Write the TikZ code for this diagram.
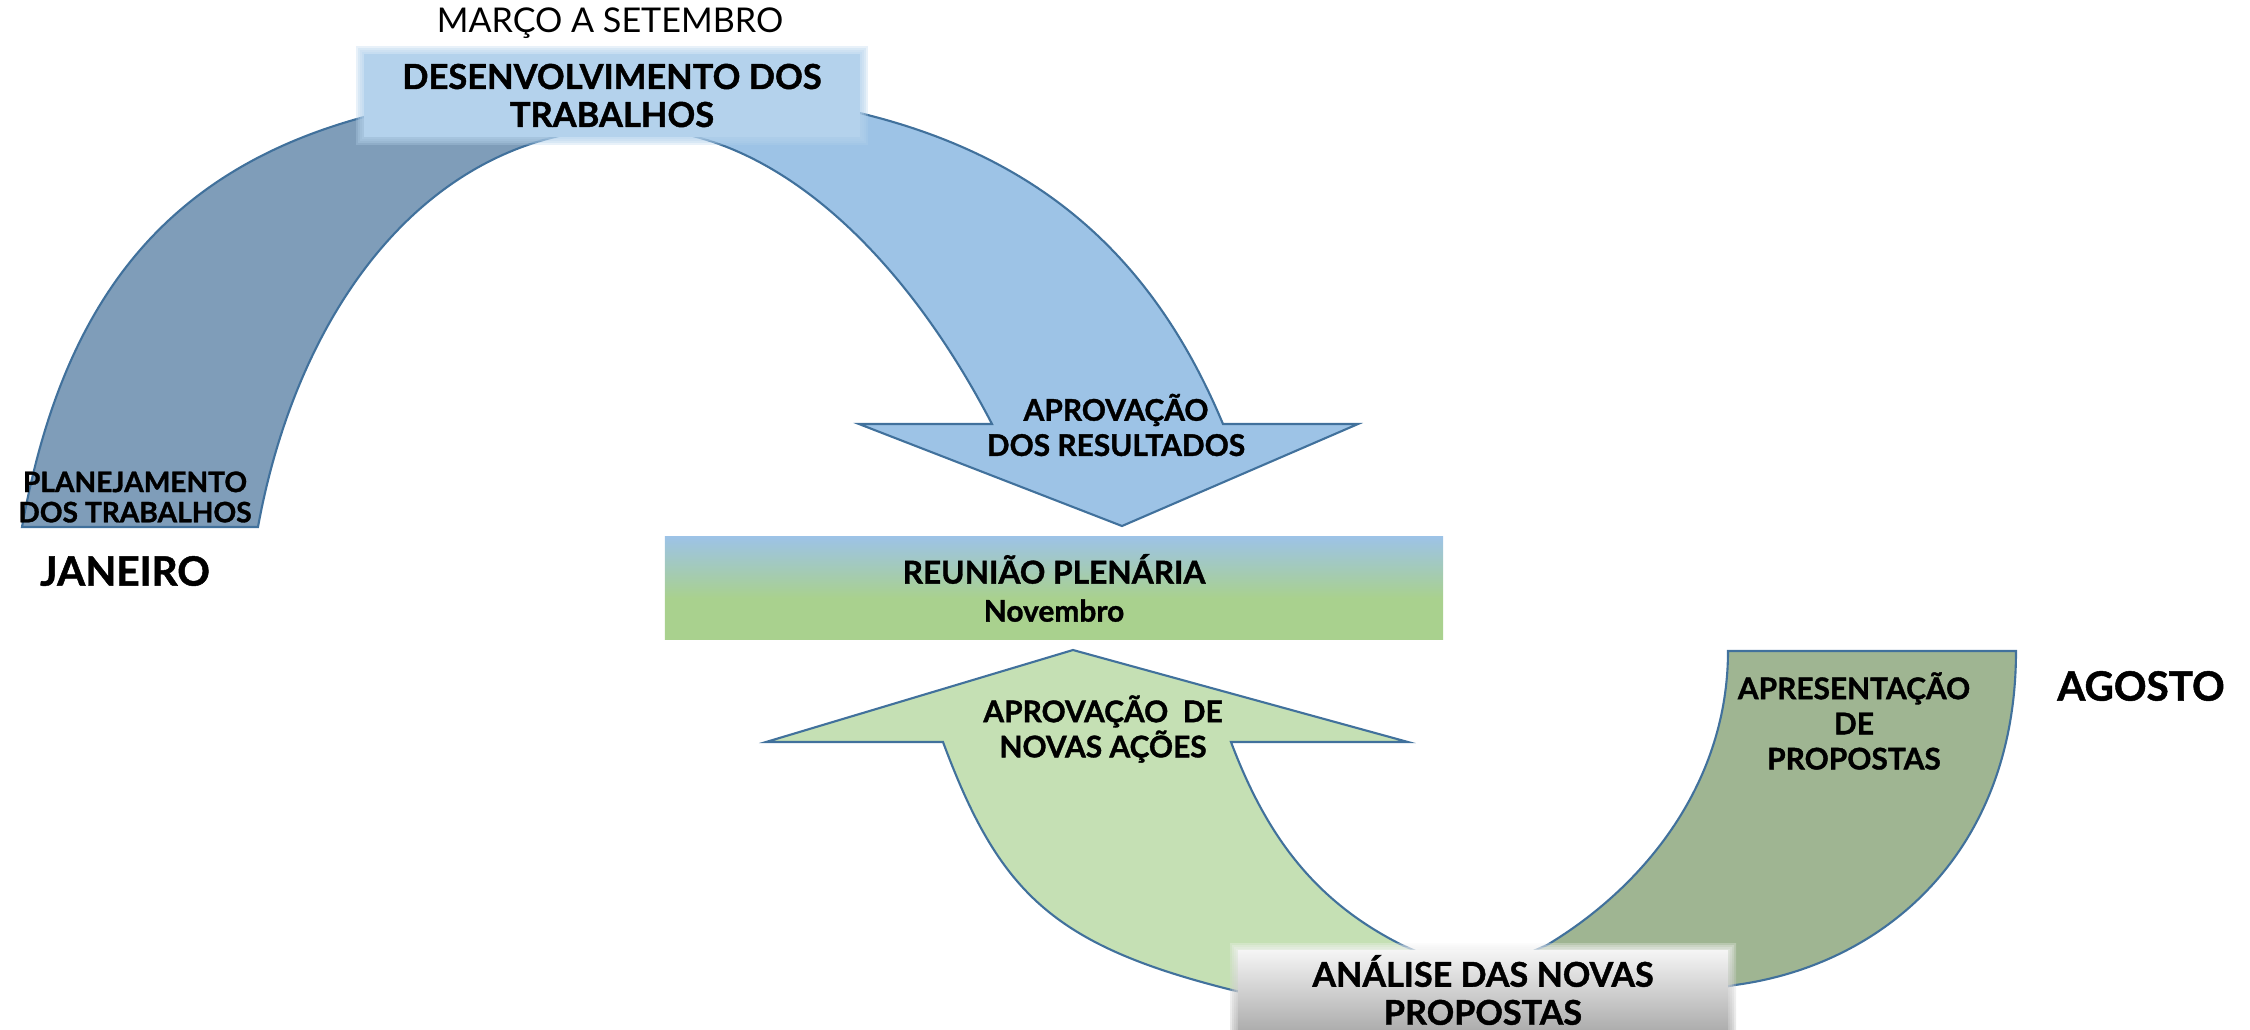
\documentclass[tikz,border=0pt]{standalone}
\usepackage{fontspec}
\setmainfont{Lato}[BoldFeatures={FakeBold=1.2}]
\usepackage{tikz}
\usetikzlibrary{positioning}

\definecolor{linha}{HTML}{41719C}
\definecolor{azulescuro}{HTML}{7F9DB9}
\definecolor{azulclaro}{HTML}{9DC3E6}
\definecolor{caixatopo}{HTML}{B4D2EC}
\definecolor{verdeclaro}{HTML}{C5E0B4}
\definecolor{verdeescuro}{HTML}{9FB592}
\definecolor{azulR}{HTML}{9DC3E6}
\definecolor{verdeR}{HTML}{A9D18E}
\definecolor{cinzaclaro}{HTML}{F4F4F4}
\definecolor{cinzaescuro}{HTML}{AEAEAE}
\pgfdeclareverticalshading{plenaria}{100bp}{color(0bp)=(verdeR); color(45bp)=(verdeR); color(75bp)=(azulR); color(100bp)=(azulR)}

\begin{document}
\begin{tikzpicture}[
        x=0.01cm, y=-0.01cm,
        contorno/.style={draw=linha, line width=0.6pt, line join=miter},
        caixa/.style={rectangle, inner sep=0pt, align=center},
        rotulo/.style={inner sep=0pt, align=center, font=\bfseries\fontsize{8.5}{10}\selectfont},
        mes/.style={inner sep=0pt, font=\bfseries\fontsize{11.5}{13}\selectfont}
    ]
        \useasboundingbox (0,0) rectangle (2250,1029);

        % 上方弧形箭头
        \draw[contorno, fill=azulclaro]
            (620,88) .. controls (960,88) and (1131,204) .. (1223,424)
            -- (1358,424) -- (1122,526) -- (859,424) -- (992,424)
            .. controls (909,264) and (780,128) .. (630,128)
            -- cycle;
        \draw[contorno, fill=azulescuro]
            (22,527) .. controls (76,227) and (240,88) .. (620,88)
            -- (630,128)
            .. controls (430,128) and (298,307) .. (258,527)
            -- cycle;

        % 下方弧形箭头
        \draw[contorno, fill=verdeclaro]
            (943,742) -- (766,742) -- (1073,650) -- (1408,742) -- (1231,742)
            .. controls (1265,832) and (1312,900) .. (1402,945)
            -- (1470,975) -- (1300,1005) -- (1232,990)
            .. controls (1052,945) and (999,892) .. (943,742)
            -- cycle;
        \draw[contorno, fill=verdeescuro]
            (1728,651) -- (2016,651)
            .. controls (2016,851) and (1885,965) .. (1735,985)
            -- (1680,995) -- (1490,970) -- (1547,945)
            .. controls (1647,885) and (1728,781) .. (1728,651)
            -- cycle;

        % 方框 (边缘柔化)
        \foreach \d in {0,2,4,6} {
            \fill[caixatopo, opacity=.3] (356+\d,46+\d) rectangle (868-\d,145-\d);
            \shade[top color=cinzaclaro, bottom color=cinzaescuro, opacity=.3] (1230+\d,943+\d) rectangle (1736-\d,1029);
        }
        \node (desenv) [caixa, fill=caixatopo, minimum width=4.96cm, minimum height=0.83cm,
            font=\bfseries\fontsize{9.8}{10.8}\selectfont] at (612,95.5) {DESENVOLVIMENTO DOS\\TRABALHOS};
        \node (plenaria) [caixa, shading=plenaria, minimum width=7.78cm, minimum height=1.02cm,
            font=\bfseries\fontsize{9}{10.8}\selectfont] at (1054,588)
            {REUNIÃO PLENÁRIA\\{\fontsize{8.5}{10}\selectfont Novembro}};
        \node (analise) [caixa, top color=cinzaclaro, bottom color=cinzaescuro, minimum width=4.9cm, minimum height=0.78cm,
            font=\bfseries\fontsize{9.7}{10.8}\selectfont] at (1483,990) {ANÁLISE DAS NOVAS\\PROPOSTAS};

        % 文字
        \path
            (610,23)   node (marco) [inner sep=0pt, font=\fontsize{9.7}{11}\selectfont] {MARÇO A SETEMBRO}
            (135,497)  node (planej) [rotulo, font=\bfseries\fontsize{8}{8.6}\selectfont] {PLANEJAMENTO\\DOS TRABALHOS}
            (125,571)  node (janeiro) [mes] {JANEIRO}
            (1116,425) node (resultados) [rotulo] {APROVAÇÃO\\DOS RESULTADOS}
            (1103,729) node (acoes) [rotulo] {APROVAÇÃO~~DE\\NOVAS AÇÕES}
            (1854,721) node (apresent) [rotulo] {APRESENTAÇÃO\\DE\\PROPOSTAS}
            (2141,686) node (agosto) [mes] {AGOSTO};
    \end{tikzpicture}
\end{document}
